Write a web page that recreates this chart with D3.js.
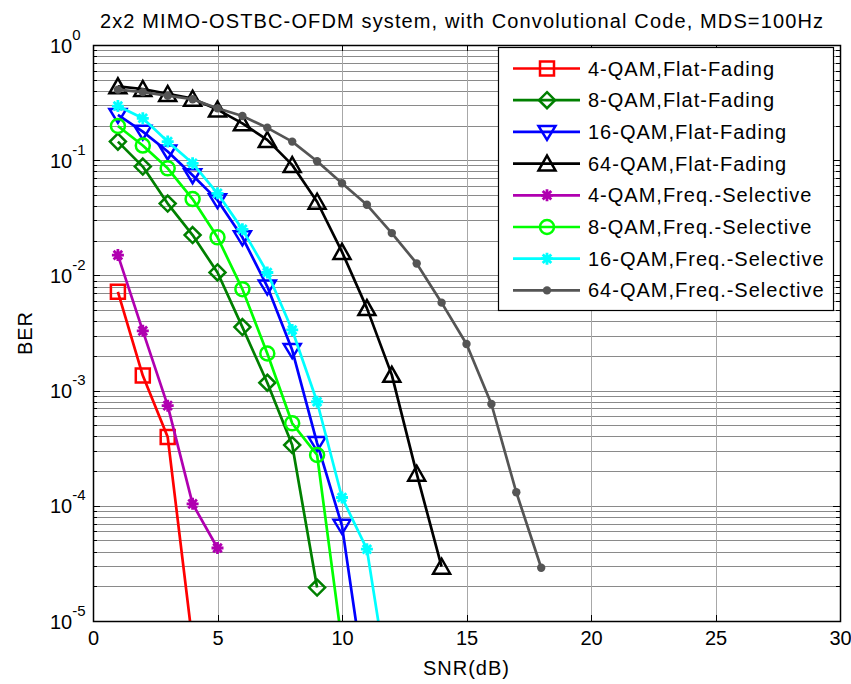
<!DOCTYPE html>
<html>
<head>
<meta charset="utf-8">
<script src="https://cdn.jsdelivr.net/npm/d3@7"></script>
<style>
    body { margin: 0; background: #fff; }
    svg { display: block; font-family: "Liberation Sans", Arial, sans-serif; }
</style>
</head>
<body>
<div id="chart"></div>
<script>
// Data
const seriesNames = [
    "4-QAM,Flat-Fading", "8-QAM,Flat-Fading", "16-QAM,Flat-Fading", "64-QAM,Flat-Fading",
    "4-QAM,Freq.-Selective", "8-QAM,Freq.-Selective", "16-QAM,Freq.-Selective", "64-QAM,Freq.-Selective"
];
const snr4Flat = [1, 2, 3, 4];
const ber4Flat = [7.2e-3, 1.35e-3, 3.95e-4, 6.5e-6];
const snr8Flat = [1, 2, 3, 4, 5, 6, 7, 8, 9];
const ber8Flat = [0.145, 0.088, 0.042, 0.0224, 0.0106, 3.56e-3, 1.17e-3, 3.37e-4, 1.95e-5];
const snr16Flat = [1, 2, 3, 4, 5, 6, 7, 8, 9, 10, 11];
const ber16Flat = [0.247, 0.177, 0.119, 0.074, 0.045, 0.0214, 8.0e-3, 2.25e-3, 3.5e-4, 6.7e-5, 2.2e-6];
const snr64Flat = [1, 2, 3, 4, 5, 6, 7, 8, 9, 10, 11, 12, 13, 14];
const ber64Flat = [0.438, 0.415, 0.376, 0.342, 0.275, 0.209, 0.150, 0.091, 0.0436, 0.016, 5.2e-3, 1.37e-3, 1.9e-4, 2.96e-5];
const snr4Sel = [1, 2, 3, 4, 5];
const ber4Sel = [0.015, 3.3e-3, 7.4e-4, 1.04e-4, 4.3e-5];
const snr8Sel = [1, 2, 3, 4, 5, 6, 7, 8, 9, 10];
const ber8Sel = [0.198, 0.134, 0.085, 0.046, 0.0214, 7.6e-3, 2.1e-3, 5.2e-4, 2.76e-4, 6.4e-6];
const snr16Sel = [1, 2, 3, 4, 5, 6, 7, 8, 9, 10, 11, 12];
const ber16Sel = [0.295, 0.231, 0.145, 0.094, 0.0516, 0.0251, 0.0106, 3.36e-3, 8.0e-4, 1.18e-4, 4.2e-5, 1.8e-6];
const snr64Sel = [1, 2, 3, 4, 5, 6, 7, 8, 9, 10, 11, 12, 13, 14, 15, 16, 17, 18];
const ber64Sel = [0.41, 0.39, 0.363, 0.338, 0.282, 0.242, 0.191, 0.145, 0.098, 0.063, 0.041, 0.0233, 0.0127, 5.8e-3, 2.54e-3, 7.65e-4, 1.31e-4, 2.9e-5];

const snrTicks = [0, 5, 10, 15, 20, 25, 30];
const berExponents = [0, -1, -2, -3, -4, -5];

const series = [
    { snr: snr4Flat, ber: ber4Flat }, { snr: snr8Flat, ber: ber8Flat },
    { snr: snr16Flat, ber: ber16Flat }, { snr: snr64Flat, ber: ber64Flat },
    { snr: snr4Sel, ber: ber4Sel }, { snr: snr8Sel, ber: ber8Sel },
    { snr: snr16Sel, ber: ber16Sel }, { snr: snr64Sel, ber: ber64Sel }
];
const colors = ["#ff0000", "#008000", "#0000ff", "#000000", "#b000b0", "#00ff00", "#00ffff", "#555555"];
const markers = ["square", "diamond", "triDown", "triUp", "star", "circle", "star", "dot"];

// Layout
const width = 851, height = 684;
const plotLeft = 93, plotRight = 840, plotTop = 45, plotBottom = 621;

const x = d3.scaleLinear().domain([0, 30]).range([plotLeft, plotRight]);
const y = d3.scaleLog().domain([1e-5, 1]).range([plotBottom, plotTop]);

const svg = d3.select("#chart").append("svg")
    .attr("width", width)
    .attr("height", height);

svg.append("defs").append("clipPath").attr("id", "plotClip")
    .append("rect")
    .attr("x", plotLeft).attr("y", plotTop)
    .attr("width", plotRight - plotLeft).attr("height", plotBottom - plotTop);

// Grid
const minorVals = [];
for (let e = -5; e < 0; e++) {
    for (let m = 1; m <= 9; m++) minorVals.push(m * Math.pow(10, e));
}
minorVals.push(1);

svg.append("g").selectAll("line")
    .data(minorVals.filter(v => v > 1e-5 && v < 1))
    .enter().append("line")
    .attr("x1", plotLeft).attr("x2", plotRight)
    .attr("y1", d => Math.round(y(d)) + 0.5).attr("y2", d => Math.round(y(d)) + 0.5)
    .attr("stroke", "#8a8a8a").attr("stroke-width", 1);

svg.append("g").selectAll("line")
    .data(snrTicks.slice(1, -1))
    .enter().append("line")
    .attr("x1", d => Math.round(x(d)) + 0.5).attr("x2", d => Math.round(x(d)) + 0.5)
    .attr("y1", plotTop).attr("y2", plotBottom)
    .attr("stroke", "#a8a8a8").attr("stroke-width", 1);

// Tick marks (inside, both sides)
const tickG = svg.append("g").attr("stroke", "#000").attr("stroke-width", 1);
minorVals.forEach(v => {
    const isMajor = Math.abs(Math.log10(v) - Math.round(Math.log10(v))) < 1e-9;
    const len = isMajor ? 7 : 4;
    const yy = Math.round(y(v)) + 0.5;
    tickG.append("line").attr("x1", plotLeft).attr("x2", plotLeft + len).attr("y1", yy).attr("y2", yy);
    tickG.append("line").attr("x1", plotRight - len).attr("x2", plotRight).attr("y1", yy).attr("y2", yy);
});
snrTicks.forEach(s => {
    const xx = Math.round(x(s)) + 0.5;
    tickG.append("line").attr("x1", xx).attr("x2", xx).attr("y1", plotBottom).attr("y2", plotBottom - 6);
    tickG.append("line").attr("x1", xx).attr("x2", xx).attr("y1", plotTop).attr("y2", plotTop + 6);
});

// X tick labels through d3 axis
svg.append("g")
    .attr("transform", `translate(0,${plotBottom})`)
    .call(d3.axisBottom(x).tickValues(snrTicks).tickSize(0).tickPadding(10).tickFormat(d3.format("d")))
    .call(g => g.select(".domain").remove())
    .selectAll("text")
    .attr("font-size", 20)
    .attr("font-family", "Liberation Sans, Arial, sans-serif")
    .attr("fill", "#000");

// Y tick labels 10^n
const yLab = svg.append("g");
berExponents.forEach(e => {
    const yy = y(Math.pow(10, e));
    const t = yLab.append("text")
        .attr("x", 50).attr("y", yy + 7.5)
        .attr("font-size", 20).attr("fill", "#000");
    t.append("tspan").text("10");
    t.append("tspan").attr("dy", -13).attr("font-size", 15).text(String(e));
});

// Series
const line = d3.line().x(d => x(d[0])).y(d => y(d[1]));

function markerPath(type) {
    switch (type) {
        case "square": return "M-7,-7H7V7H-7Z";
        case "diamond": return "M0,-8L8,0L0,8L-8,0Z";
        case "triDown": return "M-8.5,-6H8.5L0,8Z";
        case "triUp": return "M-8.5,7H8.5L0,-8Z";
        case "star": return "M-6,0H6M0,-6V6M-4.3,-4.3L4.3,4.3M-4.3,4.3L4.3,-4.3";
        default: return null;
    }
}

function drawMarker(g, type, color, cx, cy) {
    if (type === "circle") {
        g.append("circle").attr("cx", cx).attr("cy", cy).attr("r", 7)
            .attr("fill", "none").attr("stroke", color).attr("stroke-width", 2.5);
    } else if (type === "dot") {
        g.append("circle").attr("cx", cx).attr("cy", cy).attr("r", 4.2)
            .attr("fill", color).attr("stroke", "none");
    } else {
        g.append("path").attr("d", markerPath(type))
            .attr("transform", `translate(${cx},${cy})`)
            .attr("fill", "none").attr("stroke", color)
            .attr("stroke-width", type === "star" ? 2.8 : 2.5)
            .attr("stroke-linejoin", "miter");
    }
}

const plotG = svg.append("g").attr("clip-path", "url(#plotClip)");
series.forEach((s, i) => {
    const pts = s.snr.map((v, k) => [v, s.ber[k]]);
    const g = plotG.append("g");
    g.append("path")
        .datum(pts)
        .attr("d", line)
        .attr("fill", "none")
        .attr("stroke", colors[i])
        .attr("stroke-width", 2.7)
        .attr("stroke-linejoin", "round");
    pts.forEach(p => drawMarker(g, markers[i], colors[i], x(p[0]), y(p[1])));
});

// Axes box
svg.append("rect")
    .attr("x", plotLeft + 0.5).attr("y", plotTop + 0.5)
    .attr("width", plotRight - plotLeft).attr("height", plotBottom - plotTop)
    .attr("fill", "none").attr("stroke", "#000").attr("stroke-width", 1.5);

// Legend
const lgX = 498, lgY = 47, lgW = 335, lgH = 263;
const legend = svg.append("g");
legend.append("rect")
    .attr("x", lgX + 0.5).attr("y", lgY + 0.5)
    .attr("width", lgW).attr("height", lgH)
    .attr("fill", "#fff").attr("stroke", "#000").attr("stroke-width", 1.2);

seriesNames.forEach((name, i) => {
    const ry = 68.5 + i * 31.7;
    legend.append("line")
        .attr("x1", 513).attr("x2", 580).attr("y1", ry).attr("y2", ry)
        .attr("stroke", colors[i]).attr("stroke-width", 2.7);
    drawMarker(legend, markers[i], colors[i], 547, ry);
    legend.append("text")
        .attr("x", 588).attr("y", ry + 7)
        .attr("font-size", 20).attr("fill", "#000")
        .attr("letter-spacing", 1)
        .text(name);
});

// Title and axis labels
svg.append("text")
    .attr("x", 100).attr("y", 28)
    .attr("font-size", 20)
    .attr("textLength", 723)
    .attr("lengthAdjust", "spacing")
    .text("2x2 MIMO-OSTBC-OFDM system, with Convolutional Code, MDS=100Hz");

svg.append("text")
    .attr("x", (plotLeft + plotRight) / 2).attr("y", 675)
    .attr("text-anchor", "middle")
    .attr("font-size", 20)
    .attr("letter-spacing", 1)
    .text("SNR(dB)");

svg.append("text")
    .attr("transform", `translate(32,${(plotTop + plotBottom) / 2}) rotate(-90)`)
    .attr("text-anchor", "middle")
    .attr("font-size", 20)
    .attr("letter-spacing", 1)
    .text("BER");
</script>
</body>
</html>
